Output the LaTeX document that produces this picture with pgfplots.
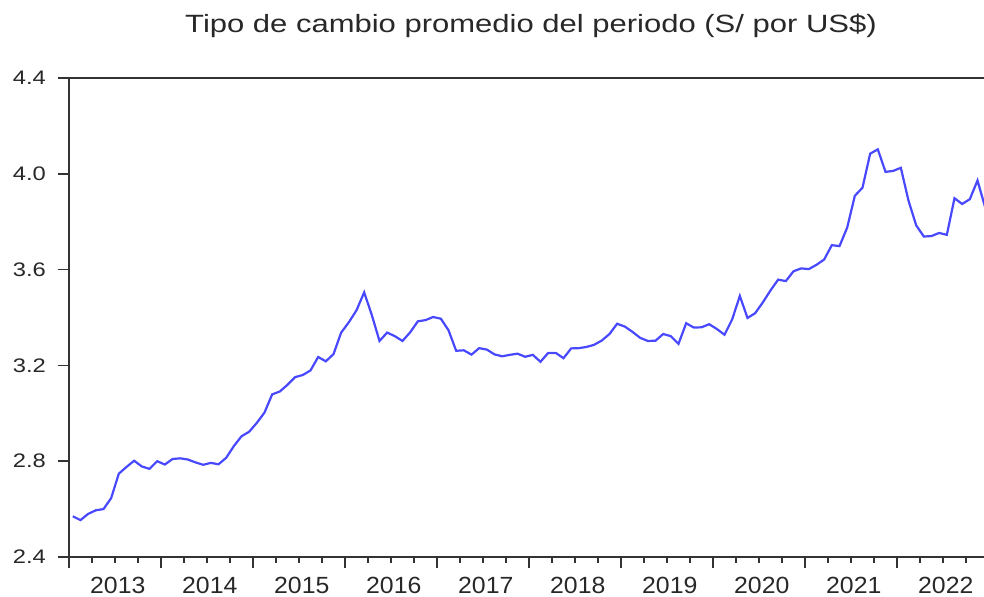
\documentclass[border=0pt]{standalone}
\usepackage{fontspec}
\setmainfont{Liberation Sans}
\usepackage{pgfplots}
\pgfplotsset{compat=1.18}
\definecolor{evblue}{RGB}{72,72,255}
\definecolor{txt}{RGB}{40,40,40}
\pgfplotstableread{
x y
0.5 2.570
1.5 2.554
2.5 2.580
3.5 2.595
4.5 2.600
5.5 2.646
6.5 2.748
7.5 2.776
8.5 2.802
9.5 2.778
10.5 2.768
11.5 2.800
12.5 2.786
13.5 2.809
14.5 2.812
15.5 2.807
16.5 2.795
17.5 2.785
18.5 2.793
19.5 2.787
20.5 2.814
21.5 2.863
22.5 2.904
23.5 2.923
24.5 2.960
25.5 3.003
26.5 3.079
27.5 3.091
28.5 3.119
29.5 3.151
30.5 3.160
31.5 3.179
32.5 3.235
33.5 3.217
34.5 3.247
35.5 3.337
36.5 3.380
37.5 3.430
38.5 3.505
39.5 3.410
40.5 3.302
41.5 3.337
42.5 3.322
43.5 3.302
44.5 3.338
45.5 3.384
46.5 3.389
47.5 3.402
48.5 3.395
49.5 3.347
50.5 3.261
51.5 3.263
52.5 3.245
53.5 3.272
54.5 3.266
55.5 3.246
56.5 3.238
57.5 3.244
58.5 3.249
59.5 3.236
60.5 3.244
61.5 3.215
62.5 3.252
63.5 3.252
64.5 3.230
65.5 3.271
66.5 3.272
67.5 3.277
68.5 3.286
69.5 3.304
70.5 3.331
71.5 3.374
72.5 3.362
73.5 3.340
74.5 3.315
75.5 3.302
76.5 3.303
77.5 3.331
78.5 3.322
79.5 3.290
80.5 3.376
81.5 3.358
82.5 3.359
83.5 3.372
84.5 3.352
85.5 3.328
86.5 3.392
87.5 3.490
88.5 3.398
89.5 3.418
90.5 3.463
91.5 3.513
92.5 3.558
93.5 3.552
94.5 3.593
95.5 3.605
96.5 3.602
97.5 3.620
98.5 3.642
99.5 3.702
100.5 3.698
101.5 3.775
102.5 3.908
103.5 3.942
104.5 4.084
105.5 4.102
106.5 4.008
107.5 4.012
108.5 4.025
109.5 3.888
110.5 3.785
111.5 3.738
112.5 3.740
113.5 3.753
114.5 3.745
115.5 3.898
116.5 3.874
117.5 3.894
118.5 3.972
119.5 3.860
}\fx
\begin{document}
\begin{tikzpicture}
\useasboundingbox (-34.5pt,-20pt) rectangle (457.5pt,278.5pt);
\begin{axis}[
  at={(0,0)}, anchor=south west,
  scale only axis, width=457.5pt, height=239.5pt,
  xmin=0, xmax=119.35, ymin=2.4, ymax=4.4,
  axis x line*=box, axis y line*=left,
  xtick pos=left, ytick pos=left,
  axis line style={-, line width=0.9pt, black!80},
  every tick/.style={black!80, line width=0.8pt},
  tick align=outside,
  major tick length=5.5pt, minor tick length=3pt,
  xtick={0,12,24,36,48,60,72,84,96,108},
  xticklabels={2013,2014,2015,2016,2017,2018,2019,2020,2021,2022},
  minor xtick={3,6,9,15,18,21,27,30,33,39,42,45,51,54,57,63,66,69,75,78,81,87,90,93,99,102,105,111,114,117},
  xticklabel style={font=\fontsize{11.7}{14}\selectfont, xscale=1.06, text=txt, xshift=23pt, yshift=-1pt},
  ytick={2.4,2.8,3.2,3.6,4.0,4.4},
  yticklabel style={font=\fontsize{9.8}{12}\selectfont, xscale=1.21, text=txt, xshift=-1.5pt,
    /pgf/number format/.cd, fixed, fixed zerofill, precision=1, assume math mode=true},
  clip=true,
]
\addplot[evblue, line width=1.1pt, no marks] table[x=x,y=y] {\fx};
\end{axis}
\node[anchor=base, font=\fontsize{12.5}{15}\selectfont, xscale=1.24, text=txt] at (231pt,262pt) {Tipo de cambio promedio del periodo (S/ por US\$)};
\end{tikzpicture}
\end{document}
